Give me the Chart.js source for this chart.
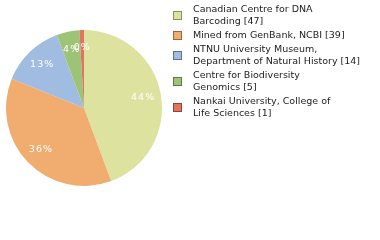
<!DOCTYPE html>
<html>
<head>
<meta charset="utf-8">
<script src="https://cdn.jsdelivr.net/npm/chart.js@4"></script>
<style>
  html, body { margin: 0; padding: 0; background: #fff; }
  #wrap { width: 380px; height: 240px; }
</style>
</head>
<body>
<div id="wrap"><canvas id="chPie" width="380" height="240"></canvas></div>
<script>
// data
var categories = [
  ['Canadian Centre for DNA', 'Barcoding [47]'],
  ['Mined from GenBank, NCBI [39]'],
  ['NTNU University Museum,', 'Department of Natural History [14]'],
  ['Centre for Biodiversity', 'Genomics [5]'],
  ['Nankai University, College of', 'Life Sciences [1]']
];
var counts = [47, 39, 14, 5, 1];
var colors = ['#dde39e', '#f0ad6f', '#a0bce1', '#9dc476', '#e0745f'];
var borders = ['#8a8f5c', '#96683f', '#5f7290', '#5f7a45', '#8e4638'];

var fontFamily = '"DejaVu Sans", Verdana, sans-serif';

// percent labels inside slices
var pctLabels = {
  id: 'pctLabels',
  afterDatasetsDraw: function(chart) {
    var ctx = chart.ctx;
    var meta = chart.getDatasetMeta(0);
    var total = counts.reduce(function(a, b) { return a + b; }, 0);
    ctx.save();
    ctx.fillStyle = '#fff';
    ctx.font = '9.5px ' + fontFamily;
    ctx.textAlign = 'center';
    ctx.textBaseline = 'middle';
    if ('letterSpacing' in ctx) ctx.letterSpacing = '1px';
    meta.data.forEach(function(arc, i) {
      var mid = (arc.startAngle + arc.endAngle) / 2;
      var r = arc.outerRadius * 0.77;
      var x = arc.x + Math.cos(mid) * r;
      var y = arc.y + Math.sin(mid) * r;
      ctx.fillText(Math.floor(counts[i] / total * 100) + '%', x, y);
    });
    ctx.restore();
  }
};

// legend on the right
var sideLegend = {
  id: 'sideLegend',
  afterDraw: function(chart) {
    var ctx = chart.ctx;
    ctx.save();
    ctx.font = '9.5px ' + fontFamily;
    ctx.textBaseline = 'middle';
    var y = 9.5;
    categories.forEach(function(lines, i) {
      var boxY = y + (lines.length - 1) * 6;
      ctx.fillStyle = colors[i];
      ctx.fillRect(173.5, boxY - 4, 8, 8);
      ctx.strokeStyle = borders[i];
      ctx.lineWidth = 1;
      ctx.strokeRect(173.5, boxY - 4, 8, 8);
      ctx.fillStyle = '#222';
      lines.forEach(function(t, j) {
        ctx.fillText(t, 193, y + j * 12);
      });
      y += lines.length * 12 + 2;
    });
    ctx.restore();
  }
};

new Chart(document.getElementById('chPie'), {
  type: 'pie',
  data: {
    labels: categories.map(function(l) { return l.join(' '); }),
    datasets: [{
      data: counts,
      backgroundColor: colors,
      borderWidth: 0
    }]
  },
  options: {
    responsive: false,
    animation: false,
    layout: { padding: { left: 6, top: 30, right: 218, bottom: 54 } },
    plugins: {
      legend: { display: false },
      tooltip: { enabled: false }
    }
  },
  plugins: [pctLabels, sideLegend]
});
</script>
</body>
</html>
